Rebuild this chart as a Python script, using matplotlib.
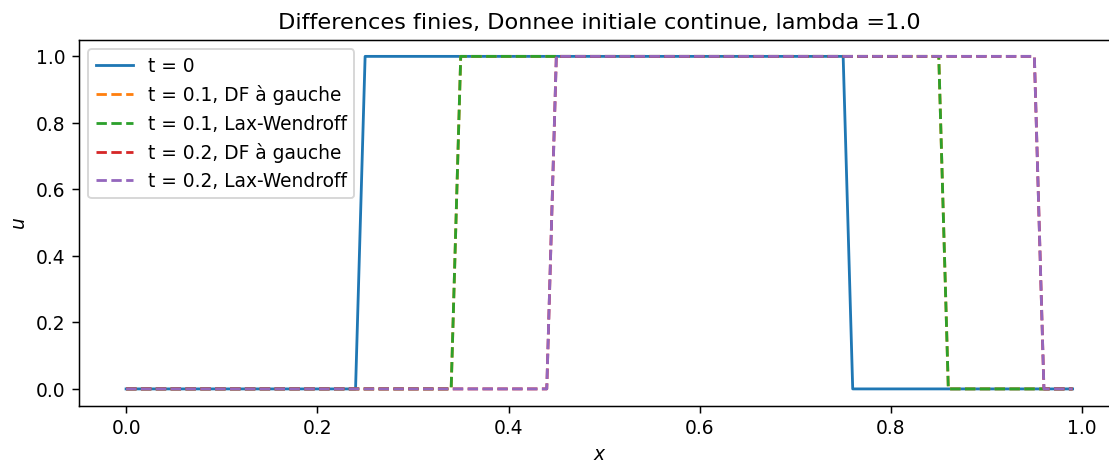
import numpy as np
import matplotlib
matplotlib.use("Agg")
import matplotlib.pyplot as plt

# Spatial grid (dx = 0.01) and solutions at each time
x = np.linspace(0.0, 0.99, 100)
u_t0 = [0] * 25 + [1] * 51 + [0] * 24
u_t01_df = [0] * 35 + [1] * 51 + [0] * 14
u_t01_lw = [0] * 35 + [1] * 51 + [0] * 14
u_t02_df = [0] * 45 + [1] * 51 + [0] * 4
u_t02_lw = [0] * 45 + [1] * 51 + [0] * 4

lam = 1.0

DPI = 134.5
fig = plt.figure(figsize=(1109.4 / DPI, 460.4 / DPI), dpi=DPI)
ax = fig.add_axes([0.0710, 0.1183, 1.0095 - 0.0710, 0.9128 - 0.1183])

ax.plot(x, u_t0, label="t = 0")
ax.plot(x, u_t01_df, "--", label="t = 0.1, DF à gauche")
ax.plot(x, u_t01_lw, "--", label="t = 0.1, Lax-Wendroff")
ax.plot(x, u_t02_df, "--", label="t = 0.2, DF à gauche")
ax.plot(x, u_t02_lw, "--", label="t = 0.2, Lax-Wendroff")

ax.set_xlabel("$x$")
ax.set_ylabel("$u$")
ax.set_title(f"Differences finies, Donnee initiale continue, lambda ={lam}")
ax.legend(loc="upper left")

fig.savefig("out.png", dpi=DPI)
